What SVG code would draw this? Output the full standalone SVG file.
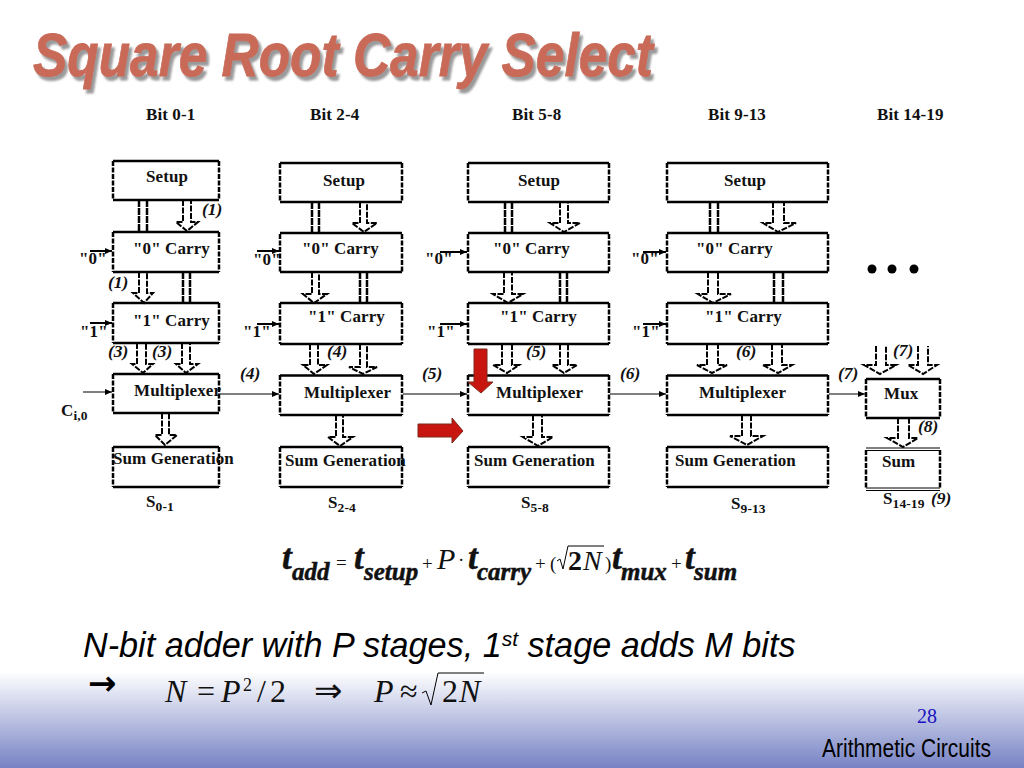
<svg xmlns="http://www.w3.org/2000/svg" width="1024" height="768" viewBox="0 0 1024 768">
<style>
text{font-family:"Liberation Serif","Times New Roman",serif;fill:#111}
.l{font-weight:700;font-size:17px;letter-spacing:.1px}
.n{font-style:italic;font-weight:700;font-size:17.500px}
.sub{font-weight:700;font-size:13.500px}
.big{font-weight:700;font-style:italic;font-size:35px;stroke:#111;stroke-width:.5}
.low{font-weight:700;font-style:italic;font-size:25px;stroke:#111;stroke-width:.5}
.op{font-size:19px}
.m{font-size:32px}
.mi{font-size:32px;font-style:italic}
.body{font-family:"Liberation Sans",Arial,sans-serif;font-style:italic;font-size:34.200px;fill:#000}
.t{font-family:"Liberation Sans",Arial,sans-serif;font-weight:700;font-style:italic;font-size:62px;fill:#c96a58;stroke:#c96a58;stroke-width:.8}
.h{fill:none;stroke:#000;stroke-width:2.5}
.v{fill:none;stroke:#000;stroke-width:2.5;stroke-dasharray:5 1.5}
.a{fill:none;stroke:#000;stroke-width:2;stroke-dasharray:6 1.5}
.s{fill:none;stroke:#000;stroke-width:2.5;stroke-dasharray:7 1}
.w{fill:none;stroke:#000;stroke-width:1}
.i{fill:none;stroke:#000;stroke-width:2}
.r{fill:#c9150f;stroke:#7d2a1c;stroke-width:1}
</style>
<defs>
<linearGradient id="g" x1="0" y1="0" x2="0" y2="1"><stop offset="0" stop-color="#fff"/><stop offset="1" stop-color="#7682c4"/></linearGradient>
<filter id="sh" x="-5%" y="-20%" width="110%" height="150%"><feDropShadow dx="3" dy="4" stdDeviation=".8" flood-color="#9a9a9a"/></filter>
<marker id="ah" markerUnits="userSpaceOnUse" markerWidth="8" markerHeight="8" refX="7" refY="4" orient="auto"><path d="M0 1L7 4L0 7z" fill="#000"/></marker>
</defs>
<rect x="0" y="672" width="1024" height="96" fill="url(#g)"/>
<g id="title">
<text class="t" x="33" y="76" textLength="620" lengthAdjust="spacingAndGlyphs" filter="url(#sh)">Square Root Carry Select</text>
</g>
<g id="headers">
<text class="l" x="146" y="120">Bit 0-1</text>
<text class="l" x="310" y="120">Bit 2-4</text>
<text class="l" x="512" y="120">Bit 5-8</text>
<text class="l" x="708" y="120">Bit 9-13</text>
<text class="l" x="877" y="120">Bit 14-19</text>
</g>
<g id="setup-1"><path class="h" d="M113 161H219M113 200H219"/><path class="v" d="M113 161V200M219 161V200"/><text class="l" x="146" y="182">Setup</text></g>
<g id="carry0-1"><path class="h" d="M113 232H219M113 272H219"/><path class="v" d="M113 232V272M219 232V272"/><text class="l" x="133" y="254">"0" Carry</text></g>
<g id="carry1-1"><path class="h" d="M113 303H219M113 343H219"/><path class="v" d="M113 303V343M219 303V343"/><text class="l" x="133" y="326">"1" Carry</text></g>
<g id="mux-1"><path class="h" d="M113 374H219M113 413H219"/><path class="v" d="M113 374V413M219 374V413"/><text class="l" x="134" y="396">Multiplexer</text></g>
<g id="sum-1"><path class="h" d="M113 447H219M113 487H219"/><path class="v" d="M113 447V487M219 447V487"/><text class="l" x="113" y="464">Sum Generation</text></g>
<g id="setup-2"><path class="h" d="M280 163H402M280 202H402"/><path class="v" d="M280 163V202M402 163V202"/><text class="l" x="323" y="186">Setup</text></g>
<g id="carry0-2"><path class="h" d="M280 233H402M280 272H402"/><path class="v" d="M280 234V272M402 234V272"/><text class="l" x="302" y="254">"0" Carry</text></g>
<g id="carry1-2"><path class="h" d="M280 303H402M280 344H402"/><path class="v" d="M280 303V344M402 303V344"/><text class="l" x="308" y="322">"1" Carry</text></g>
<g id="mux-2"><path class="h" d="M280 375.500H402M280 415H402"/><path class="v" d="M280 375V415M402 375V415"/><text class="l" x="304" y="398">Multiplexer</text></g>
<g id="sum-2"><path class="h" d="M280 447H402M280 487H402"/><path class="v" d="M280 447V487M402 447V487"/><text class="l" x="285" y="466">Sum Generation</text></g>
<g id="setup-3"><path class="h" d="M468 163H609M468 202H609"/><path class="v" d="M468 163V202M609 163V202"/><text class="l" x="518" y="186">Setup</text></g>
<g id="carry0-3"><path class="h" d="M468 233H609M468 272H609"/><path class="v" d="M468 234V272M609 234V272"/><text class="l" x="493" y="254">"0" Carry</text></g>
<g id="carry1-3"><path class="h" d="M468 303H609M468 344H609"/><path class="v" d="M468 303V344M609 303V344"/><text class="l" x="500" y="322">"1" Carry</text></g>
<g id="mux-3"><path class="h" d="M468 375.500H609M468 415H609"/><path class="v" d="M468 375V415M609 375V415"/><text class="l" x="496" y="398">Multiplexer</text></g>
<g id="sum-3"><path class="h" d="M468 447H609M468 487H609"/><path class="v" d="M468 447V487M609 447V487"/><text class="l" x="474" y="466">Sum Generation</text></g>
<g id="setup-4"><path class="h" d="M667 163H828M667 202H828"/><path class="v" d="M667 163V202M828 163V202"/><text class="l" x="724" y="186">Setup</text></g>
<g id="carry0-4"><path class="h" d="M667 233H828M667 272H828"/><path class="v" d="M667 234V272M828 234V272"/><text class="l" x="696" y="254">"0" Carry</text></g>
<g id="carry1-4"><path class="h" d="M667 303H828M667 344H828"/><path class="v" d="M667 303V344M828 303V344"/><text class="l" x="705" y="322">"1" Carry</text></g>
<g id="mux-4"><path class="h" d="M667 375.500H828M667 415H828"/><path class="v" d="M667 375V415M828 375V415"/><text class="l" x="699" y="398">Multiplexer</text></g>
<g id="sum-4"><path class="h" d="M667 447H828M667 487H828"/><path class="v" d="M667 447V487M828 447V487"/><text class="l" x="675" y="466">Sum Generation</text></g>
<g id="mux-5"><path class="h" d="M866 379H940M866 418H940"/><path class="v" d="M866 379V418M940 379V418"/><text class="l" x="884" y="399">Mux</text></g>
<g id="sum-5"><path class="w" d="M866 448H940M866 450.500H940M866 488H940M866 490.500H940"/><path class="v" d="M866 450V488M940 450V488"/><text class="l" x="882" y="467">Sum</text></g>
<g id="connectors">
<path class="s" d="M139 200V232M147 200V232"/>
<path class="a" d="M183 200V222H176L187 231L198 222H191V200"/>
<path class="a" d="M139 272V293H133L144 303L153 293H147V272"/>
<path class="s" d="M183 272V303M190 272V303"/>
<path class="a" d="M137 343V364H132L143 373L153 364H146V343"/>
<path class="a" d="M182 343V364H176L186 373L198 364H190V343"/>
<path class="a" d="M162 413V435H155L165 445L177 435H169V413"/>
<path class="s" d="M312 202V234M319 202V234"/>
<path class="a" d="M360 202V223H352L364 232L377 223H367V202"/>
<path class="a" d="M312 272V294H303L314 303L327 294H319V272"/>
<path class="s" d="M360 272V303M367 272V303"/>
<path class="a" d="M310 344V365H303L314 374L327 365H318V344"/>
<path class="a" d="M360 344V367H349L363 374L377 367H367V344"/>
<path class="a" d="M336 415V437H328L340 446L353 437H343V415"/>
<path class="s" d="M505 202V234M512 202V234"/>
<path class="a" d="M560 202V223H550L564 232L580 223H568V202"/>
<path class="a" d="M504 272V294H493L508 303L523 294H512V272"/>
<path class="s" d="M560 272V303M567 272V303"/>
<path class="a" d="M502 344V365H493L507 373L519 365H512V344"/>
<path class="a" d="M560 344V365H552L564 373L577 365H568V344"/>
<path class="a" d="M533 415V437H523L538 446L553 437H542V415"/>
<path class="s" d="M710 202V234M718 202V234"/>
<path class="a" d="M773 202V223H763L778 232L796 223H784V202"/>
<path class="a" d="M708 272V294H698L713 303L731 294H718V272"/>
<path class="s" d="M774 272V303M783 272V303"/>
<path class="a" d="M707 344V365H697L712 373L727 365H718V344"/>
<path class="a" d="M772 344V365H763L778 373L792 365H782V344"/>
<path class="a" d="M742 415V436H730L747 445L763 436H751V415"/>
<path class="a" d="M876 346V365H864L880 374L896 365H886V346"/>
<path class="a" d="M918 346V365H908L923 374L937 365H928V346"/>
<path class="a" d="M898 418V438H887L903 447L918 438H909V418"/>
<path class="w" marker-end="url(#ah)" d="M83 392H112"/>
<path class="w" marker-end="url(#ah)" d="M220 394H279"/>
<path class="w" marker-end="url(#ah)" d="M403 394H467"/>
<path class="w" marker-end="url(#ah)" d="M610 394H666"/>
<path class="w" marker-end="url(#ah)" d="M829 394H865"/>
<path class="i" marker-end="url(#ah)" d="M90 251H112"/>
<path class="i" marker-end="url(#ah)" d="M90 323H112"/>
<path class="i" marker-end="url(#ah)" d="M257 251H279"/>
<path class="i" marker-end="url(#ah)" d="M257 324H279"/>
<path class="i" marker-end="url(#ah)" d="M440 252H467"/>
<path class="i" marker-end="url(#ah)" d="M440 324H467"/>
<path class="i" marker-end="url(#ah)" d="M643 252H666"/>
<path class="i" marker-end="url(#ah)" d="M643 324H666"/>
</g>
<g id="inputs">
<text class="l" x="79" y="264">"0"</text><text class="l" x="80" y="337">"1"</text>
<text class="l" x="253" y="265">"0"</text><text class="l" x="243" y="337">"1"</text>
<text class="l" x="425" y="264">"0"</text><text class="l" x="427" y="337">"1"</text>
<text class="l" x="631" y="264">"0"</text><text class="l" x="632" y="337">"1"</text>
<text class="l" x="61" y="416">C<tspan class="sub" dy="4">i,0</tspan></text>
</g>
<g id="outputs">
<text class="l" x="146" y="507">S<tspan class="sub" dy="4">0-1</tspan></text>
<text class="l" x="328" y="508">S<tspan class="sub" dy="4">2-4</tspan></text>
<text class="l" x="521" y="508">S<tspan class="sub" dy="4">5-8</tspan></text>
<text class="l" x="731" y="509">S<tspan class="sub" dy="4">9-13</tspan></text>
<text class="l" x="883" y="504">S<tspan class="sub" dy="4">14-19</tspan></text>
</g>
<g id="delays">
<text class="n" x="202" y="215">(1)</text><text class="n" x="108" y="288">(1)</text>
<text class="n" x="108" y="357">(3)</text><text class="n" x="152" y="357">(3)</text>
<text class="n" x="327" y="357">(4)</text><text class="n" x="240" y="379">(4)</text>
<text class="n" x="422" y="379">(5)</text><text class="n" x="526" y="357">(5)</text>
<text class="n" x="620" y="379">(6)</text><text class="n" x="736" y="357">(6)</text>
<text class="n" x="838" y="379">(7)</text><text class="n" x="893" y="356">(7)</text>
<text class="n" x="918" y="432">(8)</text><text class="n" x="931" y="504">(9)</text>
</g>
<g id="dots"><circle cx="872" cy="269" r="4.500" fill="#000"/><circle cx="892" cy="269" r="4.500" fill="#000"/><circle cx="914" cy="269" r="4.500" fill="#000"/></g>
<g id="red-arrows">
<path class="r" d="M474 349H487V382H493L481 393L468 382H474Z"/>
<path class="r" d="M418 424H452V418L463 431L452 443V437H418Z"/>
</g>
<g id="formula">
<text class="big" x="282" y="569">t</text><text class="low" x="292" y="580">add</text>
<text class="op" x="336" y="569">=</text>
<text class="big" x="354" y="569">t</text><text class="low" x="364" y="580">setup</text>
<text class="op" x="422" y="570">+</text>
<text x="437" y="569" style="font-style:italic;font-size:30px">P</text>
<text class="op" x="458" y="566">·</text>
<text class="big" x="468" y="569">t</text><text class="low" x="477" y="580">carry</text>
<text class="op" x="535" y="570">+</text><text class="op" x="550" y="570">(</text>
<path class="w" d="M557 561L560 559L563 569L568 546H604"/>
<text x="568" y="570" style="font-weight:700;font-size:28px">2</text><text x="583" y="570" style="font-style:italic;font-size:28px">N</text>
<text class="op" x="605" y="570">)</text>
<text class="big" x="612" y="569">t</text><text class="low" x="621" y="580">mux</text>
<text class="op" x="671" y="570">+</text>
<text class="big" x="685" y="569">t</text><text class="low" x="694" y="580">sum</text>
</g>
<g id="caption">
<text class="body" x="83" y="657">N-bit adder with P stages, 1<tspan font-size="21" dy="-11">st</tspan><tspan dy="11"> stage adds M bits</tspan></text>
<text x="88" y="695" style="font-family:'DejaVu Sans',sans-serif;font-size:34px;font-weight:700;fill:#000">→</text>
<text class="mi" x="165" y="702">N</text><text class="m" x="197" y="702">=</text><text class="mi" x="221" y="702">P</text><text x="243" y="691" style="font-size:18px">2</text><text class="m" x="257" y="702">/</text><text class="m" x="270" y="702">2</text>
<text x="314" y="702" style="font-family:'DejaVu Sans',sans-serif;font-size:34px">⇒</text>
<text class="mi" x="374" y="702">P</text><text class="m" x="400" y="702">≈</text>
<path class="w" d="M422 693L426 691L431 705L438 673H484"/>
<text class="m" x="442" y="702">2</text><text class="mi" x="459" y="702">N</text>
</g>
<g id="footer">
<text x="917" y="723" style="font-size:20px;fill:#1a12c0">28</text>
<text transform="translate(822 757) scale(.807 1)" style="font-family:'Liberation Sans',Arial,sans-serif;font-size:26px;fill:#000">Arithmetic Circuits</text>
</g>
</svg>
